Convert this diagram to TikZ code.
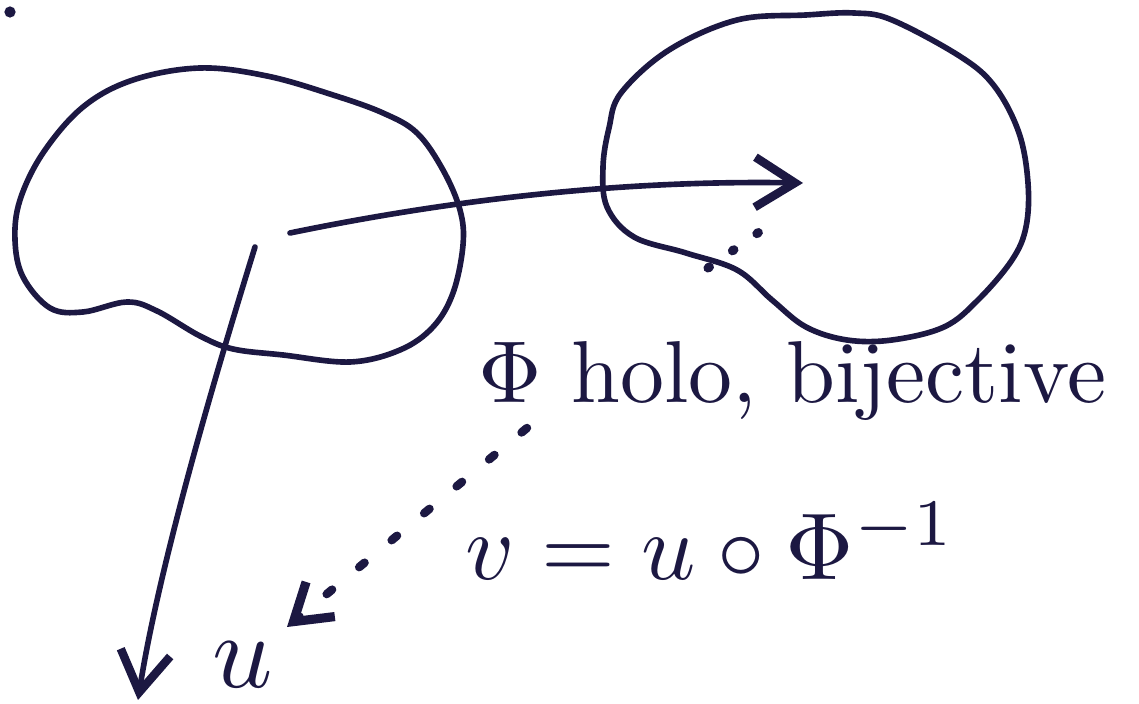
\documentclass[tikz,border=0pt]{standalone}
\usepackage{amsmath,amssymb}
\usepackage{xcolor}
\usepackage{tikz}
\usetikzlibrary{arrows.meta, positioning}
\definecolor{ink}{RGB}{28,24,66}
\tikzstyle{blob} = [
    draw=ink, line width=1.6pt, line cap=round]
\tikzstyle{map} = [
    draw=ink, line width=1.6pt, line cap=round,
    -{Straight Barb[length=4mm, width=5mm, line width=2.4pt]}]
\tikzstyle{dotmap} = [
    draw=ink, line width=2.4pt, line cap=round,
    dash pattern=on 2pt off 10pt,
    -{Straight Barb[length=3.5mm, width=4.5mm, line width=2.6pt]}]
\tikzstyle{dots} = [
    draw=ink, line width=2.6pt, line cap=round,
    dash pattern=on 0.5pt off 8pt]
\tikzstyle{label} = [text=ink, inner sep=0pt]

\begin{document}
\begin{tikzpicture}[x=0.01cm, y=-0.01cm]
  \useasboundingbox (0,0) rectangle (1139,704);

  % the two domains
  \draw [blob] plot [smooth cycle, tension=0.6] coordinates {
      (200,68) (267,76) (333,95) (383,113) (417,133) (443,170) (460,210)
      (463,245) (453,293) (433,327) (400,350) (350,362) (283,355) (233,349)
      (200,336) (157,311) (127,302) (83,312) (50,308) (23,277) (15,240)
      (20,200) (43,153) (83,107) (133,80)};
  \draw [blob] plot [smooth cycle, tension=0.6] coordinates {
      (806,15) (854,13) (892,20) (961,57) (995,87) (1019,133) (1028,183)
      (1026,227) (1012,260) (978,300) (944,327) (892,340) (847,340)
      (806,327) (772,300) (737,270) (686,253) (634,237) (607,207)
      (603,167) (609,128) (621,93) (669,50) (737,20)};
  \fill [ink] (10,12) circle [radius=1.6pt];

  \coordinate (src) at (290,233);
  \coordinate (tgt) at (803,183);
  \coordinate (base) at (255,247);
  \coordinate (foot) at (138,700);
  \coordinate (hint) at (708,268);
  \coordinate (hend) at (762,230);
  \coordinate (pre) at (527,428);
  \coordinate (pend) at (287,627);

  \node (phi) [label, anchor=base west] at (478,403)
      {\scalebox{2.5}{$\Phi$ holo, bijective}};
  \node (comp) [label, anchor=base west] at (465,580)
      {\scalebox{2.7}{$v = u \circ \Phi^{-1}$}};
  \node (ulab) [label, anchor=base] at (243,688)
      {\scalebox{3}{$u$}};

  \draw [map] (src) .. controls (450,200) and (620,180) .. (tgt);
  \draw [map] (base) .. controls (220,360) and (160,560) .. (foot);
  \draw [dots] (hint) -- (hend);
  \draw [dotmap] (pre) -- (pend);

\end{tikzpicture}
\end{document}
